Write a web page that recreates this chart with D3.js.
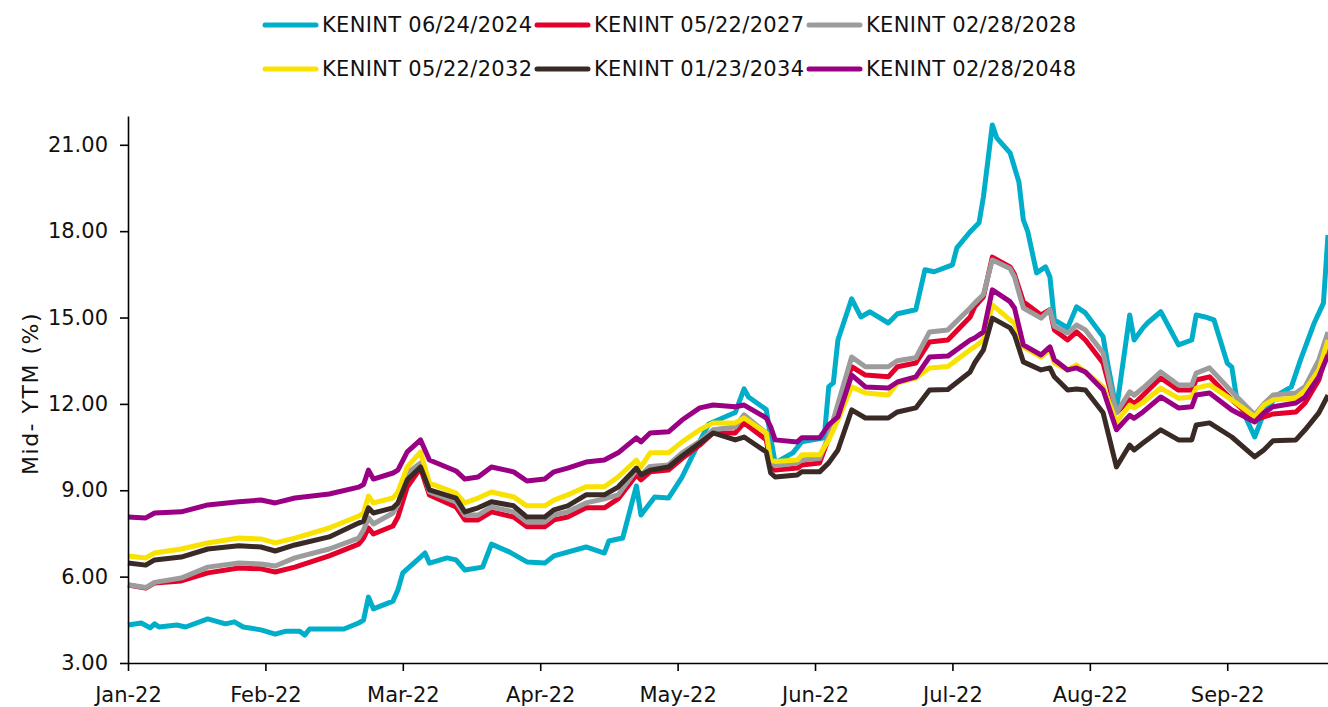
<!DOCTYPE html>
<html>
<head>
<meta charset="utf-8">
<script src="https://cdn.jsdelivr.net/npm/d3@7"></script>
<style>
  body { margin: 0; background: #fff; }
  svg { display: block; font-family: "DejaVu Sans", sans-serif; }
</style>
</head>
<body>
<script>
// shared trading dates for the longer bonds
const dates = ["2022-01-01","2022-01-05","2022-01-07","2022-01-13","2022-01-19","2022-01-26","2022-01-31",
  "2022-02-03","2022-02-07","2022-02-14","2022-02-20","2022-02-21","2022-02-22","2022-02-23","2022-02-27","2022-02-28",
  "2022-03-02","2022-03-05","2022-03-07","2022-03-13","2022-03-15","2022-03-18","2022-03-21","2022-03-26","2022-03-29",
  "2022-04-02","2022-04-04","2022-04-07","2022-04-11","2022-04-15","2022-04-18","2022-04-22","2022-04-23","2022-04-25","2022-04-29",
  "2022-05-02","2022-05-06","2022-05-09","2022-05-14","2022-05-16","2022-05-21","2022-05-22","2022-05-23","2022-05-28","2022-05-29",
  "2022-06-02","2022-06-04","2022-06-06","2022-06-09","2022-06-12","2022-06-17","2022-06-19","2022-06-23","2022-06-26","2022-06-30",
  "2022-07-05","2022-07-06","2022-07-08","2022-07-10","2022-07-14","2022-07-15","2022-07-17","2022-07-21","2022-07-23","2022-07-24",
  "2022-07-27","2022-07-29","2022-07-31","2022-08-04","2022-08-07","2022-08-10","2022-08-11","2022-08-13","2022-08-17","2022-08-21",
  "2022-08-24","2022-08-25","2022-08-28","2022-09-02","2022-09-07","2022-09-09","2022-09-11","2022-09-16","2022-09-18","2022-09-21","2022-09-23"];

const kenint2027 = [5.71,5.6,5.78,5.85,6.13,6.3,6.27, 6.16,6.33,6.72,7.13,7.34,7.69,7.48,7.76,8.07,
  9.11,9.77,8.84,8.42,7.97,7.97,8.25,8.07,7.73, 7.73,7.97,8.07,8.39,8.39,8.7,9.53,9.36,9.64,9.7,
  10.1,10.57,10.99,10.99,11.34,10.75,9.88,9.7,9.77,9.88, 9.95,10.82,11.9,13.29,13.0,12.94,13.29,13.42,14.15,14.22,
  15.02,15.37,15.72,17.1,16.76,16.5,15.55,15.09,15.27,14.57, 14.22,14.5,14.22,13.42,11.69,12.14,12.0,12.3,12.9,12.48,
  12.48,12.83,12.94,12.14,11.44,11.55,11.65,11.72,12.03,12.83,13.95];

const kenint2028 = [5.72,5.62,5.8,5.95,6.33,6.47,6.44, 6.37,6.65,6.96,7.34,7.62,8.04,7.83,8.21,8.49,
  9.6,9.95,8.94,8.6,8.14,8.14,8.42,8.25,7.9, 7.9,8.14,8.25,8.56,8.7,8.84,9.7,9.53,9.83,9.88,
  10.3,10.7,11.1,11.2,11.62,10.99,10.0,9.85,9.95,10.05, 10.1,10.9,12.0,13.63,13.29,13.29,13.5,13.6,14.5,14.57,
  15.33,15.5,15.8,17.0,16.7,16.41,15.33,14.98,15.27,14.7, 14.46,14.74,14.57,13.77,11.69,12.42,12.3,12.55,13.11,12.66,
  12.66,13.07,13.25,12.42,11.62,12.0,12.31,12.38,12.6,13.53,14.5];

const kenint2032 = [6.72,6.65,6.82,6.96,7.17,7.34,7.31, 7.17,7.34,7.69,8.1,8.21,8.8,8.56,8.73,8.94,
  9.81,10.33,9.25,8.9,8.56,8.73,8.94,8.77,8.46, 8.46,8.66,8.84,9.12,9.12,9.46,10.05,9.81,10.3,10.3,
  10.68,11.1,11.34,11.34,11.51,10.99,10.05,10.0,10.05,10.23, 10.23,10.75,11.44,12.59,12.38,12.31,12.73,12.9,13.25,13.3,
  13.88,13.98,14.22,15.44,14.92,14.8,13.98,13.63,13.88,13.42, 13.18,13.35,13.11,12.59,11.37,11.96,11.86,12.05,12.55,12.2,
  12.24,12.55,12.66,12.14,11.55,11.96,12.14,12.2,12.48,13.18,14.22];

const kenint2034 = [6.47,6.4,6.58,6.68,6.96,7.07,7.03, 6.89,7.1,7.38,7.86,7.93,8.39,8.21,8.39,8.56,
  9.36,9.81,9.01,8.73,8.25,8.39,8.6,8.46,8.07, 8.07,8.32,8.46,8.84,8.84,9.11,9.77,9.53,9.7,9.81,
  10.19,10.64,10.99,10.75,10.85,10.33,9.6,9.46,9.53,9.64, 9.64,9.95,10.4,11.79,11.51,11.51,11.72,11.86,12.48,12.5,
  13.11,13.42,13.88,14.98,14.64,14.4,13.46,13.18,13.25,12.94, 12.48,12.52,12.48,11.69,9.81,10.57,10.4,10.64,11.1,10.75,
  10.75,11.27,11.34,10.85,10.16,10.4,10.72,10.75,11.1,11.69,12.3];

const kenint2048 = [8.07,8.04,8.21,8.25,8.49,8.6,8.66, 8.56,8.73,8.87,9.11,9.2,9.7,9.39,9.6,9.7,
  10.33,10.75,10.05,9.67,9.39,9.46,9.81,9.64,9.32, 9.39,9.64,9.77,9.98,10.05,10.3,10.82,10.68,10.99,11.03,
  11.44,11.86,11.96,11.9,11.96,11.51,11.2,10.75,10.68,10.82, 10.82,11.27,11.55,13.0,12.59,12.55,12.76,12.94,13.63,13.66,
  14.22,14.29,14.5,15.96,15.55,15.33,14.05,13.7,13.98,13.53, 13.18,13.25,13.11,12.48,11.1,11.6,11.5,11.72,12.24,11.86,
  11.9,12.31,12.38,11.79,11.37,11.69,11.9,12.03,12.24,12.94,13.7];

// the short bond has its own set of readings
const dates2024 = ["2022-01-01","2022-01-04","2022-01-06","2022-01-07","2022-01-08","2022-01-12","2022-01-14","2022-01-19",
  "2022-01-23","2022-01-25","2022-01-27","2022-01-31","2022-02-03","2022-02-05","2022-02-08","2022-02-09","2022-02-10",
  "2022-02-14","2022-02-17","2022-02-20","2022-02-21","2022-02-22","2022-02-23","2022-02-27","2022-02-28",
  "2022-03-01","2022-03-05","2022-03-06","2022-03-07","2022-03-11","2022-03-13","2022-03-15","2022-03-19","2022-03-21",
  "2022-03-25","2022-03-29","2022-04-02","2022-04-04","2022-04-11","2022-04-15","2022-04-16","2022-04-19","2022-04-22",
  "2022-04-23","2022-04-26","2022-04-29","2022-05-02","2022-05-05","2022-05-08","2022-05-14","2022-05-16","2022-05-17",
  "2022-05-21","2022-05-22","2022-05-23","2022-05-27","2022-05-29","2022-06-03","2022-06-04","2022-06-05","2022-06-06",
  "2022-06-09","2022-06-11","2022-06-13","2022-06-17","2022-06-19","2022-06-23","2022-06-25","2022-06-27","2022-07-01",
  "2022-07-02","2022-07-05","2022-07-07","2022-07-08","2022-07-10","2022-07-11","2022-07-14","2022-07-16","2022-07-17",
  "2022-07-18","2022-07-20","2022-07-22","2022-07-23","2022-07-24","2022-07-27","2022-07-29","2022-07-31","2022-08-04",
  "2022-08-05","2022-08-07","2022-08-10","2022-08-11","2022-08-13","2022-08-14","2022-08-17","2022-08-21","2022-08-24",
  "2022-08-25","2022-08-27","2022-08-29","2022-09-01","2022-09-02","2022-09-03","2022-09-07","2022-09-09","2022-09-12",
  "2022-09-15","2022-09-17","2022-09-20","2022-09-22","2022-09-23"];

const kenint2024 = [4.32,4.39,4.22,4.36,4.25,4.32,4.25,4.53,
  4.36,4.43,4.25,4.15,4.0,4.1,4.1,3.97,4.18,
  4.18,4.18,4.39,4.49,5.29,4.88,5.15,5.54,
  6.13,6.68,6.82,6.47,6.65,6.58,6.23,6.33,7.13,
  6.86,6.51,6.47,6.72,7.03,6.82,7.24,7.34,9.15,
  8.14,8.77,8.73,9.46,10.4,11.3,11.7,12.52,12.24,
  11.8,10.82,9.95,10.3,10.68,10.82,12.6,12.73,14.22,
  15.65,15.02,15.2,14.81,15.13,15.27,16.66,16.59,16.83,
  17.42,17.98,18.29,19.2,21.69,21.24,20.72,19.71,18.39,
  17.98,16.55,16.76,16.41,14.92,14.64,15.37,15.16,14.33,
  13.42,11.79,15.09,14.22,14.64,14.81,15.2,14.05,14.22,
  15.09,15.02,14.92,13.42,13.28,12.24,10.85,11.69,12.31,
  12.59,13.53,14.81,15.5,17.87];

const seriesNames = ["KENINT 06/24/2024","KENINT 05/22/2027","KENINT 02/28/2028",
                     "KENINT 05/22/2032","KENINT 01/23/2034","KENINT 02/28/2048"];
const seriesColors = ["#00AECA","#E4002B","#9C9C9C","#F9E100","#3A2A26","#9A0084"];
const monthTicks = ["2022-01-01","2022-02-01","2022-03-01","2022-04-01","2022-05-01",
                    "2022-06-01","2022-07-01","2022-08-01","2022-09-01"];
const yTicks = [3, 6, 9, 12, 15, 18, 21];

init();

function init() {
  let width = 1328, height = 707,
      margin = {l: 128, r: 0, t: 116, b: 44};

  let svg = d3.select("body").append("svg")
              .attr("width", width)
              .attr("height", height);

  // months are drawn with equal width, as in the source chart
  let parse = d3.timeParse("%Y-%m-%d");
  function monthPos(s) {
    let d = parse(s);
    let dim = new Date(d.getFullYear(), d.getMonth() + 1, 0).getDate();
    return d.getMonth() + (d.getDate() - 1) / dim;
  }

  let x = d3.scaleLinear()
            .domain([0, monthPos(dates[dates.length - 1])])
            .range([margin.l, width - margin.r]);
  let y = d3.scaleLinear()
            .domain([3, 22])
            .range([height - margin.b, margin.t]);

  let series = [
    {dates: dates2024, values: kenint2024},
    {dates: dates, values: kenint2027},
    {dates: dates, values: kenint2028},
    {dates: dates, values: kenint2032},
    {dates: dates, values: kenint2034},
    {dates: dates, values: kenint2048}
  ];

  let line = d3.line()
               .x(d => x(monthPos(d[0])))
               .y(d => y(d[1]));

  series.forEach((s, i) => {
    svg.append("path")
       .datum(s.dates.map((d, j) => [d, s.values[j]]))
       .attr("d", line)
       .attr("fill", "none")
       .attr("stroke", seriesColors[i])
       .attr("stroke-width", 5)
       .attr("stroke-linejoin", "round");
  });

  // axes
  let fmtMonth = d3.timeFormat("%b-%y");
  let xAxis = d3.axisBottom(x)
                .tickValues(monthTicks.map(monthPos))
                .tickFormat((d, i) => fmtMonth(parse(monthTicks[i])))
                .tickSize(8)
                .tickSizeOuter(0)
                .tickPadding(16);
  let yAxis = d3.axisLeft(y)
                .tickValues(yTicks)
                .tickFormat(d3.format(".2f"))
                .tickSize(8)
                .tickSizeOuter(0)
                .tickPadding(12);

  let gx = svg.append("g")
              .attr("transform", `translate(0,${height - margin.b})`)
              .call(xAxis);
  let gy = svg.append("g")
              .attr("transform", `translate(${margin.l},0)`)
              .call(yAxis);

  [gx, gy].forEach(g => {
    g.select(".domain").attr("stroke", "#000").attr("stroke-width", 1.6);
    g.selectAll(".tick line").attr("stroke", "#000").attr("stroke-width", 1.6);
    g.selectAll(".tick text")
     .attr("fill", "#111")
     .style("font-size", "21px")
     .style("font-family", "DejaVu Sans, sans-serif");
  });

  svg.append("text")
     .attr("transform", `translate(32,${(margin.t + height - margin.b) / 2 + 4}) rotate(-90)`)
     .attr("text-anchor", "middle")
     .attr("dominant-baseline", "middle")
     .style("font-size", "22px")
     .style("letter-spacing", "1.5px")
     .attr("fill", "#111")
     .text("Mid- YTM (%)");

  // legend, two rows of three
  let legend = svg.append("g");
  seriesNames.forEach((name, i) => {
    let col = i % 3, row = Math.floor(i / 3);
    let lx = 263 + col * 272, ly = 25 + row * 44;
    legend.append("line")
          .attr("x1", lx + 2).attr("x2", lx + 53)
          .attr("y1", ly).attr("y2", ly)
          .attr("stroke", seriesColors[i])
          .attr("stroke-width", 5)
          .attr("stroke-linecap", "round");
    legend.append("text")
          .attr("x", lx + 59)
          .attr("y", ly)
          .attr("dominant-baseline", "central")
          .style("font-size", "21px")
          .style("letter-spacing", "0.3px")
          .attr("fill", "#111")
          .text(name);
  });
}
</script>
</body>
</html>
